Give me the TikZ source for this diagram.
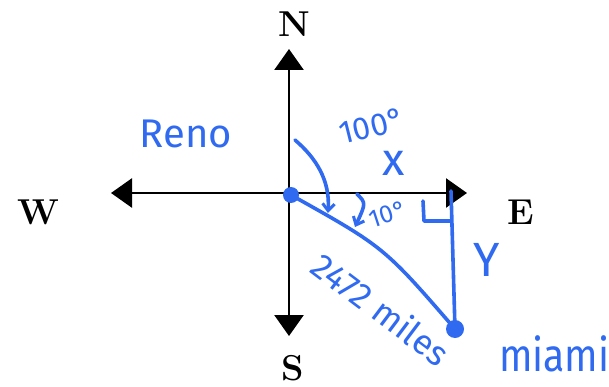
\documentclass[tikz,border=0pt]{standalone}
\usepackage{fontspec}
\usepackage{tikz}
\usetikzlibrary{arrows.meta,positioning,calc}
\newfontfamily\handfont{Fira Sans}
\definecolor{penblue}{HTML}{2F6AF0}

\begin{document}
\begin{tikzpicture}[
  x=1pt, y=-1pt,
  axis/.style ={-{Triangle[length=21pt,width=29pt]},line width=2.6pt,black},
  dir/.style  ={font=\fontsize{36}{36}\selectfont\bfseries,inner sep=0pt},
  pen/.style  ={line width=3.6pt,penblue,line cap=round,line join=round},
  parr/.style ={pen,-{Straight Barb[length=7pt,width=12pt,line width=3pt]}},
  hand/.style ={font=\handfont,text=penblue,inner sep=0pt},
  dot/.style  ={circle,fill=penblue,inner sep=0pt}
]
\useasboundingbox (0,0) rectangle (609,387);
\clip (0,0) rectangle (609,387);
%% Compass axes
\coordinate (origin) at (289,193);
\coordinate (ntip)   at (289,49);
\coordinate (stip)   at (289,336);
\coordinate (wtip)   at (111,193);
\coordinate (etip)   at (467,193);
\draw[axis] (origin) -- (ntip);
\draw[axis] (origin) -- (stip);
\draw[axis] (origin) -- (wtip);
\draw[axis] (origin) -- (etip);
\node[dir] (N) at (294,24)  {N};
\node[dir] (S) at (293,368) {S};
\node[dir] (W) at (38,212)  {W};
\node[dir] (E) at (521,212) {E};
%% Cities
\node[dot,minimum size=16pt] (reno)  at (291,195) {};
\node[dot,minimum size=18pt] (miami) at (455,329) {};
\node[hand,font=\handfont\fontsize{40}{40}\selectfont] (renolbl) at (186,134) {Reno};
\node[hand,font=\handfont\fontsize{46}{46}\selectfont,anchor=west,xscale=0.85] (miamilbl) at (499,354) {miami};
%% Triangle
\coordinate (ytop) at (451,191);
\draw[pen] (reno.center) .. controls (384,247) .. (miami.center);
\draw[pen] (ytop) -- (miami.center);
\draw[pen] (423,201) -- (424,221) -- (451,221);
%% Angle arcs
\coordinate (arcA) at (295,140);
\coordinate (endA) at (328,213);
\coordinate (arcB) at (357,194);
\coordinate (endB) at (355,227);
\draw[parr] (arcA) .. controls (316,158) and (330,180) .. (endA);
\draw[parr] (arcB) .. controls (366,203) .. (endB);
%% Labels
\node[hand,font=\handfont\fontsize{32}{32}\selectfont,rotate=14] (deg100) at (372,126) {100°};
\node[hand,font=\handfont\fontsize{46}{46}\selectfont] (xlbl) at (394,163) {x};
\node[hand,font=\handfont\fontsize{25}{25}\selectfont,rotate=18] (deg10) at (388,214) {10°};
\node[hand,font=\handfont\fontsize{48}{48}\selectfont] (ylbl) at (487,260) {Y};
\node[hand,font=\handfont\fontsize{35}{35}\selectfont,rotate=-37] (dist) at (381,309) {2472 miles};
\end{tikzpicture}
\end{document}
